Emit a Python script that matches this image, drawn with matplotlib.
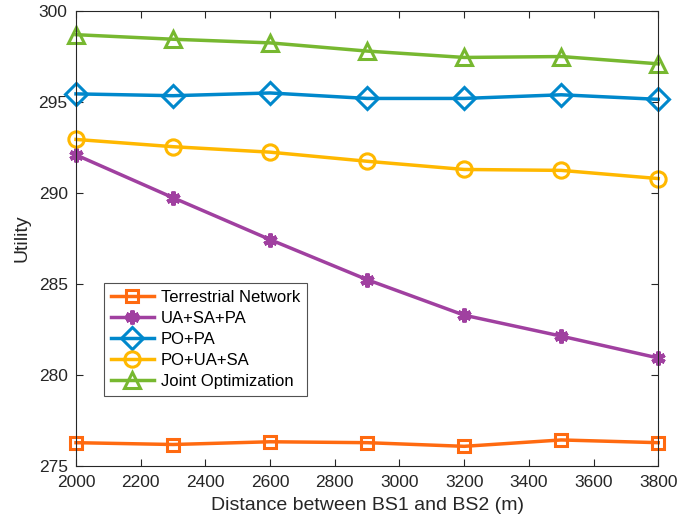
import matplotlib
matplotlib.use("Agg")
import matplotlib.pyplot as plt

plt.rcParams['font.family'] = ['Liberation Sans', 'DejaVu Sans']

distance = [2000, 2300, 2600, 2900, 3200, 3500, 3800]
terrestrial = [276.3, 276.2, 276.35, 276.3, 276.1, 276.45, 276.3]
ua_sa_pa = [292.1, 289.75, 287.45, 285.25, 283.3, 282.15, 280.95]
po_pa = [295.45, 295.35, 295.5, 295.2, 295.2, 295.4, 295.15]
po_ua_sa = [292.95, 292.55, 292.25, 291.75, 291.3, 291.25, 290.8]
joint = [298.7, 298.45, 298.25, 297.8, 297.45, 297.5, 297.1]

labels = ['Terrestrial Network', 'UA+SA+PA', 'PO+PA', 'PO+UA+SA', 'Joint Optimization']
colors = ['#FF6A10', '#A040A0', '#0088CC', '#FFB800', '#77B830']
markers = ['s', (6, 2, 0), 'D', 'o', '^']
sizes = [9, 10, 11, 11, 12]
series = [terrestrial, ua_sa_pa, po_pa, po_ua_sa, joint]

fig = plt.figure(figsize=(6.94, 5.24), dpi=100)
ax = fig.add_axes([0.1095, 0.110, 0.839, 0.869])

for y, lab, c, m, s in zip(series, labels, colors, markers, sizes):
    ax.plot(distance, y, color=c, lw=2.5, marker=m, ms=s, mfc='none',
            mec=c, mew=2.2 if m != (6, 2, 0) else 3.0, label=lab, clip_on=False)

ax.set_xlim(2000, 3800)
ax.set_ylim(275, 300)
ax.set_xticks(range(2000, 3801, 200))
ax.set_yticks(range(275, 301, 5))
ax.tick_params(direction='in', top=True, right=True, labelsize=12.5,
               length=5, width=0.8, colors='#262626', pad=6)
for sp in ax.spines.values():
    sp.set_color('#262626')
    sp.set_linewidth(0.8)
ax.set_xlabel('Distance between BS1 and BS2 (m)', fontsize=14, color='#262626', labelpad=5)
ax.set_ylabel('Utility', fontsize=14, color='#262626', labelpad=6)

leg = ax.legend(loc='lower left', bbox_to_anchor=(0.048, 0.155), fontsize=12,
                frameon=True, fancybox=False, edgecolor='#262626',
                handlelength=2.6, handletextpad=0.4, borderpad=0.4,
                labelspacing=0.36, borderaxespad=0)
leg.get_frame().set_linewidth(0.8)

fig.savefig('out.png', dpi=100)
